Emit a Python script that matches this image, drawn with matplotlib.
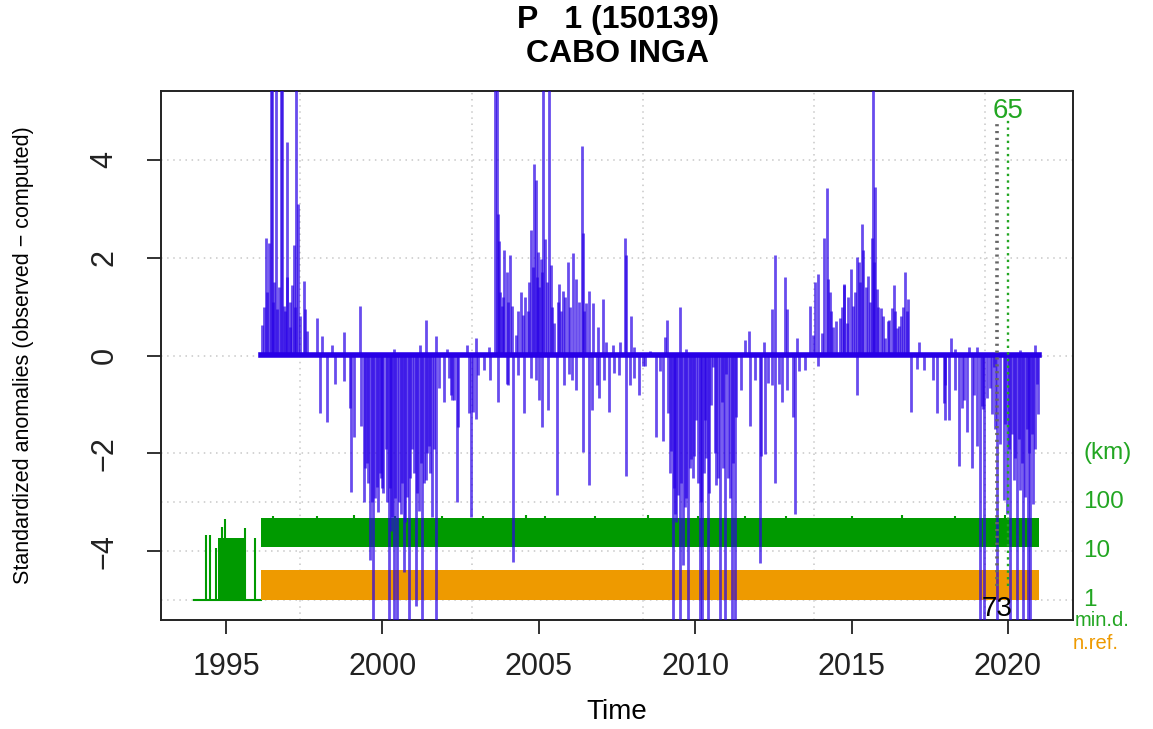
import numpy as np
import matplotlib
matplotlib.use("Agg")
import matplotlib.pyplot as plt

plt.rcParams['font.family'] = ['Liberation Sans', 'DejaVu Sans']

# daily standardized anomalies, kept as the spikes that leave the zero line
# (decimal year, anomaly)
anom_t = [
    1996.14, 1996.20, 1996.27, 1996.32, 1996.36, 1996.43, 1996.47, 1996.50, 1996.54, 1996.60,
    1996.64, 1996.68, 1996.75, 1996.80, 1996.84, 1996.88, 1996.94, 1996.96, 1997.03, 1997.06,
    1997.10, 1997.16, 1997.20, 1997.24, 1997.30, 1997.38, 1997.48, 1997.53, 1997.58, 1997.90,
    1998.07, 1998.39, 1998.78, 1999.29, 2000.36, 2001.19, 2001.38, 2001.70, 2002.07,
    1998.01, 1998.23, 1998.49, 1998.76, 1998.97, 1998.99, 1999.08, 1999.32, 1999.40, 1999.45,
    1999.51, 1999.55, 1999.61, 1999.66, 1999.70, 1999.75, 1999.83, 1999.87, 1999.91, 1999.95,
    1999.99, 2000.03, 2000.10, 2000.14, 2000.20, 2000.24, 2000.28, 2000.32, 2000.36, 2000.41,
    2000.47, 2000.52, 2000.58, 2000.62, 2000.68, 2000.73, 2000.79, 2000.84, 2000.89, 2000.95,
    2001.00, 2001.06, 2001.11, 2001.16, 2001.22, 2001.27, 2001.32, 2001.38, 2001.43, 2001.48,
    2001.53, 2001.59, 2001.64, 2001.70, 2001.80, 2001.96, 2002.12, 2002.23,
    2002.71, 2002.98, 2003.41, 2003.59, 2003.65, 2003.70, 2003.73, 2003.75, 2003.81, 2003.85,
    2003.89, 2003.99, 2004.02, 2004.08, 2004.15, 2004.26, 2004.35, 2004.42, 2004.48, 2004.55,
    2004.64, 2004.70, 2004.74, 2004.80, 2004.85, 2004.90, 2004.93, 2004.96, 2005.02, 2005.06,
    2005.10, 2005.14, 2005.19, 2005.25, 2005.33, 2005.38, 2005.42, 2005.49, 2005.60, 2005.65,
    2005.70, 2005.76, 2005.85, 2005.92, 2006.00, 2006.10, 2006.18, 2006.30, 2006.38, 2006.40,
    2006.45, 2006.51, 2006.61, 2006.72, 2006.88, 2007.06, 2007.15, 2007.36, 2007.59, 2007.76,
    2007.79, 2007.95, 2008.05,
    2002.18, 2002.29, 2002.39, 2002.42, 2002.77, 2002.82, 2002.89, 2002.98, 2003.05, 2003.25,
    2003.45, 2003.71, 2003.99, 2004.00, 2004.18, 2004.35, 2004.53, 2004.74, 2004.90, 2005.01,
    2005.10, 2005.28, 2005.57, 2005.80, 2005.97, 2006.05, 2006.20, 2006.40, 2006.61, 2006.70,
    2006.85, 2006.93, 2007.10, 2007.25, 2007.41, 2007.55, 2007.79, 2007.90, 2008.05, 2008.19,
    2008.32,
    2008.54, 2009.04, 2009.10, 2009.50, 2009.71, 2011.58, 2011.71, 2012.20, 2012.46, 2012.54,
    2012.86, 2012.92, 2013.24, 2013.66, 2013.77, 2013.84, 2013.93, 2014.04, 2014.12, 2014.20,
    2014.25, 2014.30, 2014.35, 2014.41, 2014.50, 2014.62, 2014.70, 2014.76,
    2008.38, 2008.75, 2008.86, 2008.98, 2009.12, 2009.18, 2009.23, 2009.28, 2009.32, 2009.36,
    2009.40, 2009.44, 2009.50, 2009.55, 2009.60, 2009.66, 2009.70, 2009.76, 2009.82, 2009.87,
    2009.92, 2009.96, 2010.03, 2010.08, 2010.14, 2010.18, 2010.21, 2010.27, 2010.32, 2010.36,
    2010.40, 2010.44, 2010.49, 2010.56, 2010.62, 2010.67, 2010.72, 2010.78, 2010.85, 2010.90,
    2010.94, 2010.99, 2011.05, 2011.12, 2011.17, 2011.22, 2011.26, 2011.31, 2011.47, 2011.74,
    2011.90, 2012.06, 2012.11, 2012.22, 2012.33, 2012.45, 2012.54, 2012.67, 2012.79, 2012.95,
    2013.13, 2013.20, 2013.31, 2013.50, 2013.93,
    2014.75, 2014.84, 2014.90, 2014.97, 2015.05, 2015.10, 2015.18, 2015.24, 2015.28, 2015.33,
    2015.37, 2015.45, 2015.53, 2015.58, 2015.64, 2015.69, 2015.72, 2015.75, 2015.80, 2015.86,
    2015.93, 2016.00, 2016.07, 2016.15, 2016.21, 2016.28, 2016.36, 2016.40, 2016.44, 2016.52,
    2016.58, 2016.64, 2016.71, 2016.76, 2016.82, 2017.17, 2018.17, 2018.31, 2018.74, 2019.00,
    2020.39, 2020.87,
    2015.16, 2016.89, 2017.08, 2017.30, 2017.60, 2017.74, 2017.94, 2017.99, 2018.00, 2018.13,
    2018.30, 2018.45, 2018.52, 2018.60, 2018.68, 2018.85, 2018.90, 2019.01, 2019.11, 2019.17,
    2019.20, 2019.24, 2019.33, 2019.43, 2019.50, 2019.56, 2019.60, 2019.65, 2019.75, 2019.86,
    2019.92, 2019.97, 2020.02, 2020.07, 2020.12, 2020.18, 2020.24, 2020.29, 2020.34, 2020.39,
    2020.44, 2020.48, 2020.55, 2020.60, 2020.63, 2020.68, 2020.72, 2020.76, 2020.80, 2020.85,
    2020.93, 2020.97,
]
anom_v = [
    0.63, 1.00, 2.40, 1.30, 2.30, 6.00, 6.00, 1.10, 1.50, 6.00,
    0.94, 1.40, 6.00, 6.00, 1.01, 0.90, 4.35, 1.60, 0.59, 1.10,
    1.43, 2.26, 1.00, 6.00, 3.10, 0.80, 1.53, 0.94, 0.49, 0.77,
    0.40, 0.21, 0.47, 1.01, 0.14, 0.21, 0.72, 0.40, 0.14,
    -1.18, -1.36, -0.59, -0.52, -1.08, -2.78, -1.67, -1.43, -2.99, -2.30,
    -2.19, -2.60, -4.17, -3.00, -6.00, -2.90, -2.68, -3.20, -2.40, -2.50,
    -2.71, -2.80, -1.91, -3.00, -6.00, -2.70, -3.58, -3.30, -6.00, -2.90,
    -6.00, -3.00, -3.23, -2.60, -4.42, -3.40, -2.89, -6.00, -2.50, -1.91,
    -2.40, -5.11, -2.80, -3.17, -2.20, -6.00, -2.60, -2.54, -2.00, -1.84,
    -2.40, -3.30, -1.90, -6.00, -0.66, -0.94, -0.45, -0.90,
    0.21, 0.35, 0.17, 6.00, 6.00, 2.89, 2.33, 1.30, 1.01, 1.20,
    2.16, 1.70, 1.10, 2.05, 1.01, 0.42, 0.90, 1.29, 0.83, 1.20,
    0.90, 1.50, 2.57, 1.80, 3.90, 3.58, 1.60, 2.12, 1.40, 1.98,
    1.70, 6.00, 2.37, 1.50, 6.00, 1.84, 1.00, 0.66, 1.10, 1.46,
    0.90, 1.32, 1.20, 1.91, 1.00, 2.09, 1.57, 1.10, 4.28, 2.50,
    0.90, 1.08, 1.32, 1.08, 0.59, 1.15, 0.28, 0.21, 0.28, 2.40,
    2.05, 0.80, 0.17,
    -0.80, -0.90, -2.99, -1.46, -1.18, -3.30, -1.15, -1.29, -0.40, -0.30,
    -0.50, -0.94, -0.59, -0.60, -4.21, -0.40, -1.18, -0.45, -0.50, -0.90,
    -1.46, -1.11, -2.85, -0.60, -0.38, -0.50, -0.70, -1.98, -2.64, -1.11,
    -0.60, -0.87, -0.50, -1.15, -0.35, -0.40, -2.47, -0.60, -0.45, -0.80,
    -0.21,
    0.10, 0.38, 0.73, 0.99, 0.14, 0.31, 0.49, 0.28, 0.94, 2.05,
    1.60, 0.94, 0.35, 1.01, 0.42, 1.50, 1.67, 0.45, 2.40, 3.41,
    1.57, 1.29, 0.90, 0.59, 0.70, 0.77, 1.00, 1.46,
    -0.21, -1.67, -0.31, -1.74, -1.18, -2.40, -1.95, -6.00, -2.70, -3.23,
    -3.40, -2.85, -6.00, -2.60, -4.28, -3.10, -2.90, -6.00, -2.30, -2.12,
    -2.50, -2.05, -1.32, -2.60, -6.00, -3.00, -6.00, -2.40, -1.32, -2.10,
    -6.00, -2.80, -1.01, -0.24, -2.00, -2.64, -2.50, -6.00, -0.94, -2.30,
    -6.00, -0.38, -2.50, -2.90, -6.00, -2.20, -6.00, -1.25, -0.70, -1.43,
    -0.50, -4.24, -2.05, -2.02, -0.56, -0.60, -2.61, -0.59, -0.94, -0.70,
    -1.25, -3.23, -0.31, -0.30, -0.21,
    1.43, 0.66, 1.20, 1.77, 1.01, 1.30, 2.02, 1.91, 1.50, 2.68,
    2.16, 1.40, 1.63, 1.10, 2.40, 6.00, 1.90, 3.44, 1.36, 1.00,
    0.97, 0.80, 0.35, 0.70, 0.73, 0.97, 1.43, 0.90, 0.56, 0.60,
    0.80, 1.00, 1.70, 0.90, 1.15, 0.28, 0.35, 0.14, 0.17, 0.17,
    0.12, 0.21,
    -0.80, -1.15, -0.28, -0.30, -0.50, -1.18, -0.97, -1.32, -0.60, -1.32,
    -0.70, -2.26, -1.08, -0.90, -1.57, -2.30, -0.80, -1.84, -6.00, -1.04,
    -1.10, -6.00, -0.87, -0.66, -1.20, -0.24, -1.50, -6.00, -1.80, -2.96,
    -1.40, -3.23, -1.90, -6.00, -1.60, -2.54, -2.10, -6.00, -1.70, -2.75,
    -2.20, -6.00, -2.89, -1.50, -6.00, -2.00, -6.00, -1.60, -3.03, -1.90,
    -0.59, -1.20,
]
series_start, series_end = 1996.13, 2021.00

# minimum distance to the nearest reference station (km): daily values swing
# between a low and a high level in each stretch
mind_start = 1993.98
mind_seg_from = [1994.75, 1996.13]
mind_seg_to = [1995.63, 2021.00]
mind_lo = [1.0, 12.6]
mind_hi = [19.0, 48.0]
# isolated days in the early sparse stretch (rise from 1 km)
early_spike_t = [1994.36, 1994.49, 1994.67, 1994.86, 1994.97, 1995.59, 1995.91]
early_spike_km = [22, 22, 12, 32, 45, 30, 19]
# days poking above the upper level of the main stretch
band_spike_t = [1996.50, 1997.90, 1999.10, 2000.40, 2001.90, 2003.20, 2004.60, 2005.20,
                2006.80, 2008.50, 2010.10, 2011.60, 2012.90, 2015.00, 2016.60, 2018.30,
                2019.90]
band_spike_km = [54, 53, 55, 53, 54, 53, 55, 54,
                 53, 55, 53, 54, 54, 53, 55, 54, 55]

# number of references used each day
nref_lo, nref_hi = 1.0, 4.2

# detected breaks: (date, statistic)
brk_grey_t, brk_grey_val = 2019.65, 73
brk_green_t, brk_green_val = 2020.00, 65

blue = '#2800e6'
green = '#009a00'
orange = '#ee9a00'
green_txt = '#22a622'

fig = plt.figure(figsize=(11.53, 7.29), dpi=100)
ax = fig.add_axes([161 / 1153, 109 / 729, 912 / 1153, 529 / 729])
ax.set_xlim(1992.92, 2022.08)
ax.set_ylim(-5.4, 5.4)

# grid
for gy in [-5, -4, -3, -2, 0, 2, 4]:
    ax.axhline(gy, color='#c8c8c8', lw=1.1, ls=(0, (1, 3)), zorder=0)
for gx in [1997.38, 2002.86, 2008.33, 2013.81, 2019.28]:
    ax.axvline(gx, color='#c8c8c8', lw=1.1, ls=(0, (1, 3)), zorder=0)

# anomalies
ax.plot([series_start, series_end], [0.02, 0.02], color=blue, lw=4, zorder=3)
ax.vlines(anom_t, 0, anom_v, color=blue, alpha=0.7, lw=2.0, zorder=3)

# minimum distance, log10(km) - 5
ax.plot([mind_start, series_start], [-5, -5], color=green, lw=1.5, zorder=2)
for a, b, lo, hi in zip(mind_seg_from, mind_seg_to, mind_lo, mind_hi):
    ax.fill_between([a, b], np.log10(lo) - 5, np.log10(hi) - 5, color=green, lw=0, zorder=2)
ax.vlines(early_spike_t, -5, np.log10(early_spike_km) - 5, color=green, lw=1.5, zorder=2)
ax.vlines(band_spike_t, np.log10(mind_hi[-1]) - 5.01, np.log10(band_spike_km) - 5,
          color=green, lw=1.5, zorder=2)

# number of references, log10(n) - 5
ax.fill_between([series_start, series_end], np.log10(nref_lo) - 5, np.log10(nref_hi) - 5,
                color=orange, lw=0, zorder=2)

# break markers
ax.plot([brk_grey_t, brk_grey_t], [-4.7, 4.75], color='#666666', lw=2.6,
        ls=(0, (0.6, 1.3)), zorder=4)
ax.plot([brk_green_t, brk_green_t], [-4.7, 4.8], color=green_txt, lw=1.7,
        ls=(0, (1, 1.8)), zorder=4)
ax.text(brk_green_t, 5.0, str(brk_green_val), color=green_txt, fontsize=20,
        ha='center', va='center', zorder=5)
ax.text(brk_grey_t, -5.17, str(brk_grey_val), color='black', fontsize=20,
        ha='center', va='center', zorder=5)

# axes
ax.set_xticks([1995, 2000, 2005, 2010, 2015, 2020])
ax.set_xticklabels(['1995', '2000', '2005', '2010', '2015', '2020'])
ax.set_yticks([-4, -2, 0, 2, 4])
ax.set_yticklabels(['\u22124', '\u22122', '0', '2', '4'], rotation=90, va='center')
ax.tick_params(axis='both', direction='out', length=10, width=1.3, labelsize=22,
               colors='#222222')
ax.tick_params(axis='x', pad=13)
ax.tick_params(axis='y', pad=20)
for s in ax.spines.values():
    s.set_linewidth(1.4)
    s.set_color('#222222')

ax.set_xlabel('Time', fontsize=20, labelpad=12)
ax.set_ylabel('Standardized anomalies (observed \u2212 computed)', fontsize=15.5,
              labelpad=40)

# right-hand scale
tr = ax.get_yaxis_transform()
for yv, lab in [(-2, '(km)'), (-3, '100'), (-4, '10'), (-5, '1')]:
    ax.text(1.011, yv, lab, transform=tr, color=green_txt, fontsize=17.5,
            ha='left', va='center', clip_on=False)
ax.text(1.002, -5.42, 'min.d.', transform=tr, color=green_txt, fontsize=14.5,
        ha='left', va='center', clip_on=False)
ax.text(1.000, -5.88, 'n.ref.', transform=tr, color=orange, fontsize=14.5,
        ha='left', va='center', clip_on=False)

fig.text(618 / 1153, 1 - 20 / 729, 'P   1 (150139)', fontsize=23, fontweight='bold',
         ha='center', va='center')
fig.text(618 / 1153, 1 - 54 / 729, 'CABO INGA', fontsize=23, fontweight='bold',
         ha='center', va='center')

fig.savefig('out.png', dpi=100)
